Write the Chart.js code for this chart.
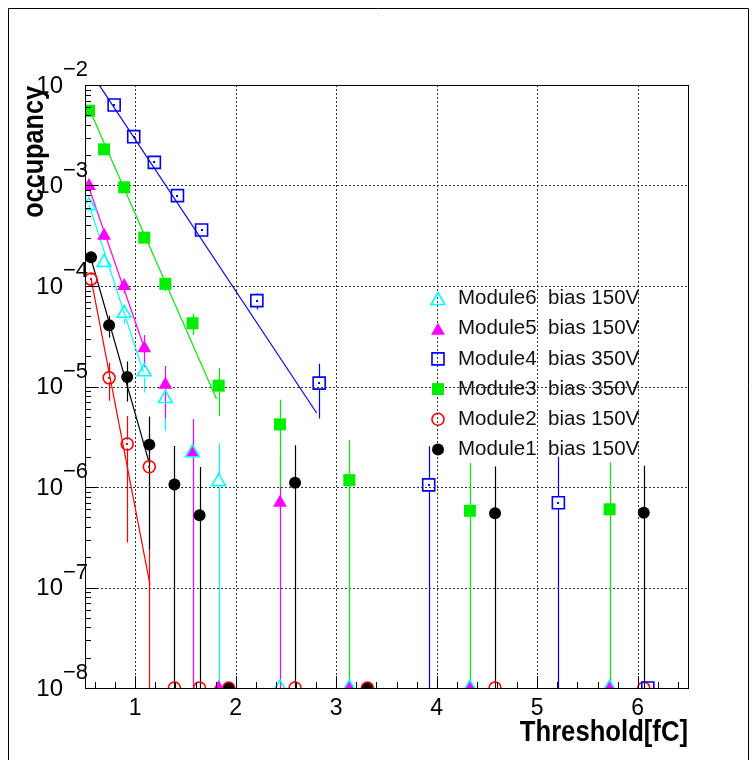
<!DOCTYPE html>
<html>
<head>
<meta charset="utf-8">
<script src="https://cdn.jsdelivr.net/npm/chart.js@4.4.0/dist/chart.umd.min.js"></script>
<style>
  html, body { margin: 0; padding: 0; background: #fff; }
  canvas { display: block; }
</style>
</head>
<body>
<canvas id="chart" width="754" height="760"></canvas>
<script>
// thresholds [fC]
const thr12 = [0.56, 0.74, 0.92, 1.14, 1.39, 1.64, 1.93, 2.59, 3.31, 4.58, 6.06];   // Module1, Module2
const thr356 = [0.54, 0.69, 0.89, 1.09, 1.30, 1.57, 1.83, 2.44, 3.13, 4.33, 5.72];  // Module3, 5, 6
const thr4 = [0.79, 0.985, 1.19, 1.42, 1.66, 2.21, 2.83, 3.92, 5.21, 6.10];         // Module4

// occupancy and errors (0 = no hits, drawn on the bottom of the frame)
const occ1 = [1.93e-4, 4.06e-5, 1.24e-5, 2.64e-6, 1.06e-6, 5.24e-7, 0, 1.10e-6, 0, 5.47e-7, 5.54e-7];
const err1 = [2.2e-5, 9.9e-6, 5.3e-6, 2.4e-6, 1.5e-6, 1.06e-6, 0, 1.5e-6, 0, 1.05e-6, 1.07e-6];
const occ2 = [1.17e-4, 1.22e-5, 2.68e-6, 1.59e-6, 0, 0, 0, 0, 0, 0, 0];
const err2 = [1.7e-5, 5.0e-6, 2.4e-6, 1.85e-6, 0, 0, 0, 0, 0, 0, 0];
const occ3 = [5.55e-3, 2.29e-3, 9.6e-4, 3.03e-4, 1.05e-4, 4.26e-5, 1.02e-5, 4.2e-6, 1.17e-6, 5.8e-7, 6.0e-7];
const err3 = [1.2e-4, 7.4e-5, 4.8e-5, 2.7e-5, 1.6e-5, 1.0e-5, 5.1e-6, 3.2e-6, 1.77e-6, 1.15e-6, 1.16e-6];
const occ4 = [6.33e-3, 3.06e-3, 1.70e-3, 7.93e-4, 3.61e-4, 7.15e-5, 1.08e-5, 1.05e-6, 6.98e-7, 0];
const err4 = [1.2e-4, 8.6e-5, 6.4e-5, 4.4e-5, 2.9e-5, 1.3e-5, 6.0e-6, 1.5e-6, 1.3e-6, 0];
const occ5 = [9.9e-4, 3.16e-4, 1.0e-4, 2.4e-5, 1.04e-5, 2.19e-6, 0, 6.98e-7, 0, 0, 0];
const err5 = [4.9e-5, 2.8e-5, 1.55e-5, 8.5e-6, 5.6e-6, 2.56e-6, 0, 1.5e-6, 0, 0, 0];
const occ6 = [6.3e-4, 1.72e-4, 5.35e-5, 1.40e-5, 7.6e-6, 2.19e-6, 1.13e-6, 0, 0, 0, 0];
const err6 = [3.9e-5, 2.0e-5, 1.13e-5, 5.3e-6, 4.0e-6, 2.3e-6, 1.6e-6, 0, 0, 0, 0];

// exponential fits (end points of the fitted range)
const fitX1 = [0.558, 1.137], fitY1 = [1.90e-4, 1.77e-6];
const fitX2 = [0.561, 1.147], fitY2 = [1.17e-4, 1.06e-7];
const fitX3 = [0.538, 1.809], fitY3 = [5.9e-3, 7.5e-6];
const fitX4 = [0.5, 2.805], fitY4 = [1.63e-2, 5.45e-6];
const fitX5 = [0.534, 1.074], fitY5 = [9.9e-4, 2.69e-5];
const fitX6 = [0.541, 1.080], fitY6 = [6.4e-4, 1.40e-5];

const labels = ['Module6  bias 150V', 'Module5  bias 150V', 'Module4  bias 350V',
                'Module3  bias 350V', 'Module2  bias 150V', 'Module1  bias 150V'];

// axis ticks
const xTicks = [1, 2, 3, 4, 5, 6];
const yTicks = [1e-8, 1e-7, 1e-6, 1e-5, 1e-4, 1e-3, 1e-2];
const yTickExp = ['\u22128', '\u22127', '\u22126', '\u22125', '\u22124', '\u22123', '\u22122'];

const pts = (xs, ys) => xs.map((x, i) => ({ x: x, y: ys[i] }));

function series(label, xs, ys, errs, color, style, radius, open) {
  return {
    label: label,
    data: pts(xs, ys),
    err: errs,
    open: open,
    showLine: false,
    pointStyle: style,
    pointRadius: radius,
    pointHoverRadius: radius,
    borderColor: color,
    backgroundColor: open ? 'rgba(0,0,0,0)' : color,
    pointBackgroundColor: open ? 'rgba(0,0,0,0)' : color,
    pointBorderColor: color,
    pointBorderWidth: open ? 1.6 : 0,
    clip: 0
  };
}

function fit(xs, ys, color) {
  return {
    data: pts(xs, ys),
    showLine: true,
    borderColor: color,
    borderWidth: 1.2,
    pointRadius: 0,
    fill: false,
    clip: 0
  };
}

const FONT = "'Liberation Sans', Arial, sans-serif";

function squeezed(ctx, txt, x, y, sx) {
  ctx.save();
  ctx.translate(x, y);
  ctx.scale(sx, 1);
  ctx.fillText(txt, 0, 0);
  ctx.restore();
}

function marker(ctx, ds, px, py) {
  ctx.fillStyle = ds.open ? 'rgba(0,0,0,0)' : ds.borderColor;
  ctx.strokeStyle = ds.borderColor;
  ctx.lineWidth = ds.pointBorderWidth;
  Chart.helpers.drawPoint(ctx, {
    pointStyle: ds.pointStyle, radius: ds.pointRadius, rotation: 0,
    borderWidth: ds.pointBorderWidth
  }, px, py);
}

const rootStyle = {
  id: 'rootStyle',
  beforeDatasetsDraw(chart) {
    const { ctx, chartArea: a, scales: { x, y } } = chart;
    ctx.save();
    // dotted grid
    ctx.strokeStyle = '#333';
    ctx.lineWidth = 1;
    ctx.setLineDash([2, 2]);
    xTicks.forEach(v => {
      const px = Math.round(x.getPixelForValue(v)) + 0.5;
      ctx.beginPath(); ctx.moveTo(px, a.top); ctx.lineTo(px, a.bottom); ctx.stroke();
    });
    yTicks.forEach(v => {
      const py = Math.round(y.getPixelForValue(v)) + 0.5;
      ctx.beginPath(); ctx.moveTo(a.left, py); ctx.lineTo(a.right, py); ctx.stroke();
    });
    ctx.setLineDash([]);
    // error bars
    ctx.beginPath();
    ctx.rect(a.left, a.top, a.right - a.left, a.bottom - a.top);
    ctx.clip();
    ctx.lineWidth = 1.2;
    chart.data.datasets.forEach(ds => {
      if (!ds.err) return;
      ctx.strokeStyle = ds.borderColor;
      ds.data.forEach((p, i) => {
        const e = ds.err[i];
        if (!e || !p.y) return;
        const px = Math.round(x.getPixelForValue(p.x)) + 0.5;
        const pc = y.getPixelForValue(p.y);
        const top = y.getPixelForValue(p.y + e);
        const lo = p.y - e;
        const bot = lo > 0 ? y.getPixelForValue(lo) : a.bottom;
        const gap = ds.open ? ds.pointRadius * 0.7 : 0;
        ctx.beginPath();
        if (top < pc - gap) { ctx.moveTo(px, top); ctx.lineTo(px, pc - gap); }
        if (bot > pc + gap) { ctx.moveTo(px, pc + gap); ctx.lineTo(px, bot); }
        ctx.stroke();
      });
    });
    ctx.restore();
  },
  afterDatasetsDraw(chart) {
    const { ctx, chartArea: a, scales: { x, y } } = chart;
    ctx.save();
    // points with zero occupancy sit on the lower edge of the frame
    ctx.save();
    ctx.beginPath();
    ctx.rect(a.left, a.top, a.right - a.left, a.bottom - a.top);
    ctx.clip();
    chart.data.datasets.slice().reverse().forEach(ds => {
      if (!ds.err) return;
      ds.data.forEach(p => {
        if (p.y === 0) marker(ctx, ds, x.getPixelForValue(p.x), a.bottom);
      });
    });
    ctx.restore();
    // dots in open markers
    chart.data.datasets.forEach(ds => {
      if (!ds.open || ds.pointStyle === 'triangle') return;
      ctx.fillStyle = ds.borderColor;
      ds.data.forEach(p => {
        if (!p.y) return;
        const px = x.getPixelForValue(p.x), py = y.getPixelForValue(p.y);
        ctx.fillRect(Math.round(px) - 1, Math.round(py) - 1, 2, 2);
      });
    });
    // frame
    ctx.strokeStyle = '#000';
    ctx.lineWidth = 1;
    ctx.strokeRect(Math.round(a.left) + 0.5, Math.round(a.top) + 0.5,
                   Math.round(a.right - a.left), Math.round(a.bottom - a.top));
    // ticks
    ctx.beginPath();
    for (let k = 3; k <= 32; k++) {
      const v = k / 5;
      const px = Math.round(x.getPixelForValue(v)) + 0.5;
      const len = (k % 5 === 0) ? 12 : 6;
      ctx.moveTo(px, a.bottom); ctx.lineTo(px, a.bottom - len);
    }
    for (let d = -8; d <= -2; d++) {
      for (let m = 1; m <= 9; m++) {
        if (d === -2 && m > 1) break;
        const py = Math.round(y.getPixelForValue(m * Math.pow(10, d))) + 0.5;
        const len = m === 1 ? 12 : 6;
        ctx.moveTo(a.left, py); ctx.lineTo(a.left + len, py);
      }
    }
    ctx.stroke();
    ctx.restore();
  },
  afterDraw(chart) {
    const { ctx, chartArea: a, scales: { x, y } } = chart;
    ctx.save();
    ctx.fillStyle = '#000';
    // x tick labels
    ctx.font = '23px ' + FONT;
    ctx.textAlign = 'center';
    ctx.textBaseline = 'middle';
    xTicks.forEach(v => ctx.fillText(String(v), x.getPixelForValue(v), a.bottom + 21));
    // y tick labels 10^n
    yTicks.forEach((v, i) => {
      const py = y.getPixelForValue(v);
      ctx.font = '24px ' + FONT;
      ctx.textAlign = 'right';
      ctx.fillText('10', a.left - 22, py + 1);
      ctx.font = '22px ' + FONT;
      ctx.textAlign = 'left';
      ctx.fillText(yTickExp[i], a.left - 22, py - 15);
    });
    // axis titles
    ctx.font = 'bold 29px ' + FONT;
    ctx.textAlign = 'right';
    ctx.textBaseline = 'alphabetic';
    squeezed(ctx, 'Threshold[fC]', a.right, a.bottom + 53, 0.885);
    ctx.save();
    ctx.translate(43, a.top + 1);
    ctx.rotate(-Math.PI / 2);
    squeezed(ctx, 'occupancy', 0, 0, 0.87);
    ctx.restore();
    // legend
    ctx.font = '20.5px ' + FONT;
    ctx.textAlign = 'left';
    ctx.textBaseline = 'middle';
    chart.data.datasets.forEach((ds, i) => {
      if (!ds.label) return;
      const ly = 298.5 + i * 30.2;
      marker(ctx, ds, 438, ly + (ds.pointStyle === 'triangle' ? 2 : 0));
      ctx.fillStyle = '#111';
      ctx.fillText(ds.label, 458, ly);
    });
    // canvas frame
    ctx.strokeStyle = '#000';
    ctx.lineWidth = 1;
    ctx.beginPath();
    ctx.moveTo(8.5, 760); ctx.lineTo(8.5, 8.5); ctx.lineTo(748.5, 8.5); ctx.lineTo(748.5, 760);
    ctx.stroke();
    ctx.restore();
  }
};

new Chart(document.getElementById('chart'), {
  type: 'scatter',
  data: {
    datasets: [
      series(labels[0], thr356, occ6, err6, '#00ffff', 'triangle', 8, true),
      series(labels[1], thr356, occ5, err5, '#ff00ff', 'triangle', 8, false),
      series(labels[2], thr4, occ4, err4, '#0000ff', 'rect', 8.5, true),
      series(labels[3], thr356, occ3, err3, '#00ee00', 'rect', 8.5, false),
      series(labels[4], thr12, occ2, err2, '#ff0000', 'circle', 6, true),
      series(labels[5], thr12, occ1, err1, '#000000', 'circle', 6, false),
      fit(fitX6, fitY6, '#00ffff'),
      fit(fitX5, fitY5, '#ff00ff'),
      fit(fitX4, fitY4, '#0000ff'),
      fit(fitX3, fitY3, '#00ee00'),
      fit(fitX2, fitY2, '#ff0000'),
      fit(fitX1, fitY1, '#000000')
    ]
  },
  options: {
    responsive: false,
    animation: false,
    devicePixelRatio: 1,
    layout: { padding: { left: 85, top: 85, right: 66, bottom: 72 } },
    plugins: { legend: { display: false }, tooltip: { enabled: false } },
    scales: {
      x: { type: 'linear', min: 0.5, max: 6.5, display: false },
      y: { type: 'logarithmic', min: 1e-8, max: 1e-2, display: false }
    }
  },
  plugins: [rootStyle]
});
</script>
</body>
</html>
